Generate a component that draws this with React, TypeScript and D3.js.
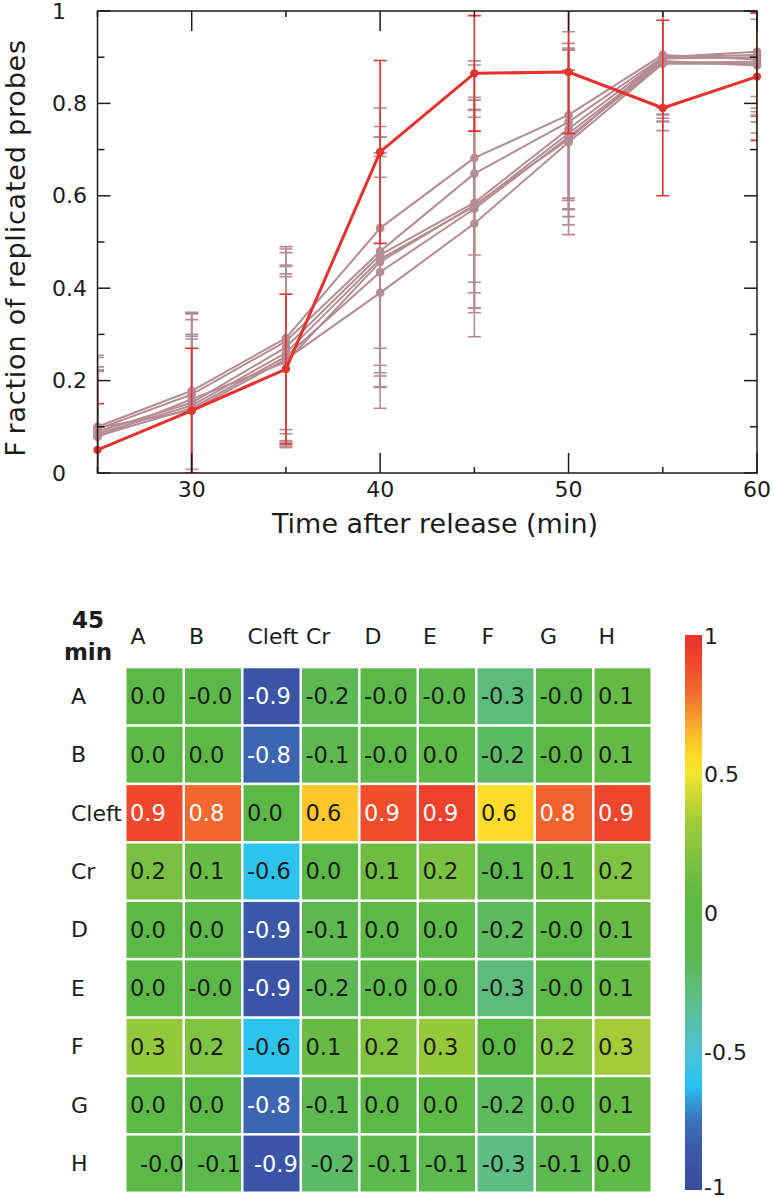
import React, { useRef, useEffect } from 'react';
import * as d3 from 'd3';

// ---- top panel: replication time courses ----
const times = [25, 30, 35, 40, 45, 50, 55, 60];

const redMean = [0.05, 0.135, 0.225, 0.695, 0.865, 0.868, 0.79, 0.858];
const redErr = [0.1, 0.135, 0.162, 0.198, 0.125, 0.133, 0.19, 0.138];

const pink1 = [0.1, 0.178, 0.292, 0.53, 0.682, 0.775, 0.905, 0.895];
const pink2 = [0.095, 0.17, 0.285, 0.48, 0.648, 0.76, 0.9, 0.912];
const pink3 = [0.09, 0.152, 0.272, 0.472, 0.585, 0.745, 0.897, 0.9];
const pink4 = [0.085, 0.146, 0.26, 0.463, 0.577, 0.735, 0.892, 0.882];
const pink5 = [0.08, 0.14, 0.252, 0.435, 0.572, 0.727, 0.888, 0.89];
const pink6 = [0.098, 0.135, 0.246, 0.39, 0.54, 0.716, 0.886, 0.886];
const pink7 = [0.078, 0.16, 0.24, 0.457, 0.58, 0.722, 0.9, 0.905];

const pinkErr1 = [0.15, 0.17, 0.198, 0.26, 0.21, 0.18, 0.13, 0.12];
const pinkErr2 = [0.16, 0.175, 0.2, 0.27, 0.235, 0.17, 0.14, 0.14];
const pinkErr3 = [0.14, 0.18, 0.205, 0.255, 0.228, 0.175, 0.12, 0.11];
const pinkErr4 = [0.135, 0.15, 0.19, 0.23, 0.23, 0.18, 0.13, 0.1];
const pinkErr5 = [0.15, 0.16, 0.195, 0.25, 0.215, 0.19, 0.12, 0.13];
const pinkErr6 = [0.125, 0.155, 0.185, 0.25, 0.245, 0.2, 0.145, 0.15];
const pinkErr7 = [0.145, 0.185, 0.185, 0.27, 0.19, 0.15, 0.11, 0.09];

const pinkMeans = [pink1, pink2, pink3, pink4, pink5, pink6, pink7];
const pinkErrs = [pinkErr1, pinkErr2, pinkErr3, pinkErr4, pinkErr5, pinkErr6, pinkErr7];

const yTicks = [0, 0.2, 0.4, 0.6, 0.8, 1];
const yMinor = [0.1, 0.3, 0.5, 0.7, 0.9];
const xTicks = [30, 40, 50, 60];
const xMinor = [25, 35, 45, 55];

// ---- bottom panel: 45 min correlation matrix ----
const regions = ['A', 'B', 'Cleft', 'Cr', 'D', 'E', 'F', 'G', 'H'];
const rowA = [0.01, -0.02, -0.9, -0.17, -0.03, -0.04, -0.28, -0.03, 0.08];
const rowB = [0.02, 0.01, -0.8, -0.1, -0.02, 0.02, -0.22, -0.01, 0.07];
const rowCleft = [0.9, 0.8, 0.0, 0.62, 0.88, 0.93, 0.56, 0.82, 0.91];
const rowCr = [0.17, 0.1, -0.6, 0.0, 0.12, 0.18, -0.07, 0.1, 0.2];
const rowD = [0.02, 0.01, -0.88, -0.1, 0.01, 0.02, -0.2, -0.01, 0.08];
const rowE = [0.01, -0.02, -0.9, -0.17, -0.02, 0.01, -0.28, -0.03, 0.08];
const rowF = [0.28, 0.2, -0.6, 0.1, 0.2, 0.28, 0.02, 0.2, 0.33];
const rowG = [0.02, 0.01, -0.8, -0.1, 0.01, 0.02, -0.2, 0.01, 0.08];
const rowH = [-0.03, -0.07, -0.9, -0.23, -0.07, -0.08, -0.3, -0.08, 0.02];
const matrix = [rowA, rowB, rowCleft, rowCr, rowD, rowE, rowF, rowG, rowH];

const colorDomain = [-1, -0.85, -0.75, -0.62, -0.5, -0.3, -0.18, 0, 0.1, 0.2, 0.33, 0.5, 0.56, 0.62, 0.8, 0.9, 1];
const colorRange = ['#394c9e', '#3b5aa9', '#3c72ba', '#27c3f2', '#4ec2d5', '#5ebd82', '#5db955', '#5cb947',
  '#68bc44', '#80c241', '#a3cb39', '#f3e52f', '#fddc2a', '#fdc62b', '#f2682e', '#ef482c', '#e8302e'];
const barTicks = [1, 0.5, 0, -0.5, -1];

const RED = '#e5322d';
const PINK = '#b58b95';
const INK = '#1c1c1c';
const FONT = 'DejaVu Sans, sans-serif';

const App = () => {
    const svgRef = useRef(null);

    useEffect(() => {
        const svg = d3.select(svgRef.current);
        svg.selectAll('*').remove();

        const x = d3.scaleLinear().domain([25, 60]).range([97.5, 757]);
        const y = d3.scaleLinear().domain([0, 1]).range([473, 11]);
        const [x0, x1] = x.range();
        const [yb, yt] = y.range();

        const defs = svg.append('defs');
        defs.append('clipPath').attr('id', 'plotClip')
            .append('rect').attr('x', x0).attr('y', yt).attr('width', x1 - x0).attr('height', yb - yt);

        const top = svg.append('g').style('font-family', FONT);

        const drawBars = (means, errs, color) => {
            const g = top.append('g').attr('clip-path', 'url(#plotClip)')
                .attr('stroke', color).attr('stroke-width', 1.6);
            times.forEach((t, i) => {
                const lo = means[i] - errs[i];
                const hi = means[i] + errs[i];
                g.append('line').attr('x1', x(t)).attr('x2', x(t)).attr('y1', y(lo)).attr('y2', y(hi));
                [lo, hi].forEach(v => {
                    g.append('line').attr('x1', x(t) - 6.5).attr('x2', x(t) + 6.5)
                        .attr('y1', y(v)).attr('y2', y(v));
                });
            });
        };
        const line = d3.line().x((d, i) => x(times[i])).y(d => y(d));
        const drawLine = (means, color, w, r) => {
            top.append('path').datum(means).attr('d', line)
                .attr('fill', 'none').attr('stroke', color).attr('stroke-width', w)
                .attr('stroke-linejoin', 'round');
            top.append('g').selectAll('circle').data(means).enter().append('circle')
                .attr('cx', (d, i) => x(times[i])).attr('cy', d => y(d)).attr('r', r).attr('fill', color);
        };

        pinkMeans.forEach((m, k) => drawBars(m, pinkErrs[k], PINK));
        pinkMeans.forEach(m => drawLine(m, PINK, 2, 4.3));
        drawBars(redMean, redErr, RED);
        drawLine(redMean, RED, 3, 4.2);

        // frame and ticks
        top.append('rect').attr('x', x0).attr('y', yt).attr('width', x1 - x0).attr('height', yb - yt)
            .attr('fill', 'none').attr('stroke', INK).attr('stroke-width', 1.5);
        const ticks = top.append('g').attr('stroke', INK).attr('stroke-width', 1.5);
        const xt = (vals, len) => vals.forEach(v => {
            ticks.append('line').attr('x1', x(v)).attr('x2', x(v)).attr('y1', yb).attr('y2', yb - len);
            ticks.append('line').attr('x1', x(v)).attr('x2', x(v)).attr('y1', yt).attr('y2', yt + len);
        });
        const yTk = (vals, len) => vals.forEach(v => {
            ticks.append('line').attr('x1', x0).attr('x2', x0 + len).attr('y1', y(v)).attr('y2', y(v));
            ticks.append('line').attr('x1', x1).attr('x2', x1 - len).attr('y1', y(v)).attr('y2', y(v));
        });
        xt(xTicks, 20); xt(xMinor, 6);
        yTk(yTicks, 13); yTk(yMinor, 7);

        top.append('g').selectAll('text').data(yTicks).enter().append('text')
            .attr('x', 52).attr('y', d => y(d)).attr('dominant-baseline', 'central')
            .attr('font-size', 22).attr('fill', INK).text(d => String(d));
        top.append('g').selectAll('text').data(xTicks).enter().append('text')
            .attr('x', d => x(d)).attr('y', 497).attr('text-anchor', 'middle')
            .attr('font-size', 22).attr('fill', INK).text(d => d);

        top.append('text').attr('x', 435).attr('y', 533).attr('text-anchor', 'middle')
            .attr('font-size', 27).attr('fill', INK).text('Time after release (min)');

        const yl = top.append('text').attr('transform', `translate(25,${(yt + yb) / 2 + 6}) rotate(-90)`)
            .attr('text-anchor', 'middle').attr('font-size', 27).attr('letter-spacing', 0.8).attr('fill', INK);
        yl.append('tspan').text('F');
        yl.append('tspan').attr('dx', 8).text('raction of replicated probes');

        // ---- heatmap ----
        const hm = svg.append('g').style('font-family', FONT);
        const cx = d3.scaleBand().domain(regions).range([126.5, 653]);
        const cy = d3.scaleBand().domain(regions).range([668.3, 1194]);
        const color = d3.scaleLinear().domain(colorDomain).range(colorRange).interpolate(d3.interpolateRgb);
        const gap = 2.5;
        // the last row's numbers sit on a slightly tighter pitch in the original
        const lastRowText = d3.scaleLinear().domain([0, regions.length - 1]).range([140, 595.6]);

        const cells = matrix.flatMap((row, r) => row.map((v, c) => ({ r, c, v })));
        hm.append('g').selectAll('rect').data(cells).enter().append('rect')
            .attr('x', d => cx(regions[d.c])).attr('y', d => cy(regions[d.r]))
            .attr('width', cx.bandwidth() - gap).attr('height', cy.bandwidth() - gap)
            .attr('fill', d => color(d.v));
        hm.append('g').selectAll('text').data(cells).enter().append('text')
            .attr('x', d => d.r === regions.length - 1 ? lastRowText(d.c) : cx(regions[d.c]) + 3.5)
            .attr('y', d => cy(regions[d.r]) + (cy.bandwidth() - gap) / 2)
            .attr('dominant-baseline', 'central').attr('font-size', 22.5)
            .attr('fill', d => Math.abs(d.v) >= 0.7 ? '#ffffff' : INK)
            .text(d => d.v.toFixed(1));

        hm.append('g').selectAll('text').data(regions).enter().append('text')
            .attr('x', d => cx(d) + 4).attr('y', 644).attr('font-size', 22).attr('fill', INK).text(d => d);
        hm.append('g').selectAll('text').data(regions).enter().append('text')
            .attr('x', 71).attr('y', d => cy(d) + (cy.bandwidth() - gap) / 2)
            .attr('dominant-baseline', 'central').attr('font-size', 22).attr('fill', INK).text(d => d);

        hm.append('text').attr('x', 88).attr('y', 628).attr('text-anchor', 'middle')
            .attr('font-size', 23).attr('font-weight', 'bold').attr('fill', INK).text('45');
        hm.append('text').attr('x', 88).attr('y', 660).attr('text-anchor', 'middle')
            .attr('font-size', 23).attr('font-weight', 'bold').attr('fill', INK).text('min');

        // colour bar
        const by = d3.scaleLinear().domain([-1, 1]).range([1190, 635]);
        const grad = defs.append('linearGradient').attr('id', 'cbar')
            .attr('x1', 0).attr('y1', 0).attr('x2', 0).attr('y2', 1);
        colorDomain.slice().reverse().forEach((v, i) => {
            grad.append('stop').attr('offset', (1 - v) / 2).attr('stop-color', colorRange[colorDomain.length - 1 - i]);
        });
        hm.append('rect').attr('x', 685).attr('y', by(1)).attr('width', 17).attr('height', by(-1) - by(1))
            .attr('fill', 'url(#cbar)');
        hm.append('g').selectAll('text').data(barTicks).enter().append('text')
            .attr('x', 704).attr('y', d => by(d) + (d === -1 ? -3 : 1)).attr('dominant-baseline', 'central')
            .attr('font-size', 22).attr('fill', INK).text(d => String(d));
    }, []);

    return (
        <svg ref={svgRef} width={774} height={1198}
            style={{ position: 'absolute', left: 0, top: 0, background: '#fff' }} />
    );
};

export default App;
